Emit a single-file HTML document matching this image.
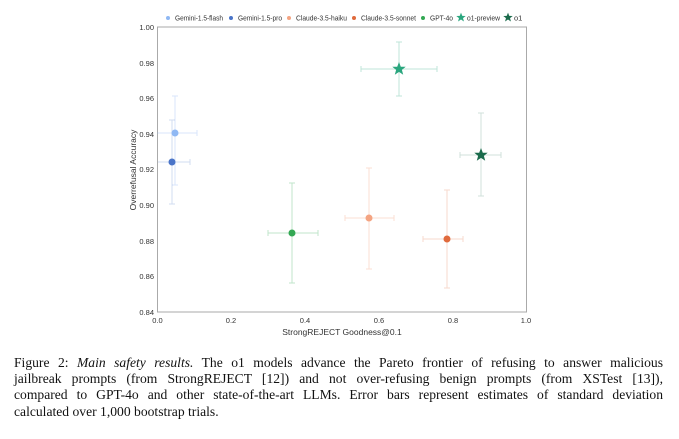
<!DOCTYPE html>
<html><head><meta charset="utf-8"><style>
body{margin:0;background:#fff;width:679px;height:439px;overflow:hidden;position:relative}
.cap{position:absolute;left:14px;top:355px;width:649px;font-family:"Liberation Serif",serif;font-size:13.6px;line-height:16.2px;color:#111}
.cap div{text-align:justify;text-align-last:justify;white-space:nowrap}
.cap div.l{text-align-last:left}
</style></head><body>
<svg width="679" height="345" style="position:absolute;left:0;top:0" font-family="Liberation Sans, sans-serif">
<defs>
<polygon id="st" points="0,-7 1.8,-2.3 6.7,-2.2 2.9,0.9 4.2,5.7 0,2.9 -4.2,5.7 -2.9,0.9 -6.7,-2.2 -1.8,-2.3"/>
</defs>
<g font-size="7.5" fill="#333" lengthAdjust="spacingAndGlyphs">
<circle cx="168" cy="18" r="2" fill="#8fb8f4"/><text x="175" y="20.5" textLength="48" lengthAdjust="spacingAndGlyphs">Gemini-1.5-flash</text>
<circle cx="231" cy="18" r="2" fill="#4a74c8"/><text x="238" y="20.5" textLength="44" lengthAdjust="spacingAndGlyphs">Gemini-1.5-pro</text>
<circle cx="289" cy="18" r="2" fill="#f4a482"/><text x="296" y="20.5" textLength="51" lengthAdjust="spacingAndGlyphs">Claude-3.5-haiku</text>
<circle cx="354" cy="18" r="2" fill="#e06a3c"/><text x="361" y="20.5" textLength="55" lengthAdjust="spacingAndGlyphs">Claude-3.5-sonnet</text>
<circle cx="423" cy="18" r="2" fill="#33a853"/><text x="430" y="20.5" textLength="23" lengthAdjust="spacingAndGlyphs">GPT-4o</text>
<use href="#st" transform="translate(461,17.5) scale(0.7)" fill="#2aa67e"/><text x="467" y="20.5" textLength="33" lengthAdjust="spacingAndGlyphs">o1-preview</text>
<use href="#st" transform="translate(508,17.5) scale(0.7)" fill="#1b6b4c"/><text x="514" y="20.5">o1</text>
</g>
<rect x="157.5" y="27" width="369" height="285" fill="none" stroke="#aaa" stroke-width="1"/>
<g font-size="7.5" fill="#333" text-anchor="end">
<text x="154" y="30">1.00</text><text x="154" y="66">0.98</text><text x="154" y="101">0.96</text><text x="154" y="137">0.94</text><text x="154" y="172">0.92</text><text x="154" y="208">0.90</text><text x="154" y="244">0.88</text><text x="154" y="279">0.86</text><text x="154" y="315">0.84</text>
</g>
<g font-size="7.5" fill="#333" text-anchor="middle">
<text x="157.5" y="323">0.0</text><text x="231" y="323">0.2</text><text x="305" y="323">0.4</text><text x="379" y="323">0.6</text><text x="453" y="323">0.8</text><text x="526" y="323">1.0</text>
<text x="342" y="335" font-size="8.5">StrongREJECT Goodness@0.1</text>
<text transform="translate(136,170) rotate(-90)" font-size="8.5">Overrefusal Accuracy</text>
</g>
<g stroke-width="1" fill="none">
<g stroke="#8fb8f4" opacity="0.35"><path d="M175,96V185M157,133H197M172,96H178M172,185H178M197,130V136"/></g>
<g stroke="#4a74c8" opacity="0.25"><path d="M172,120V204M158,162H190M169,120H175M169,204H175M190,159V165"/></g>
<g stroke="#33a853" opacity="0.3"><path d="M292,183V283M268,233H318M289,183H295M289,283H295M268,230V236M318,230V236"/></g>
<g stroke="#f4a482" opacity="0.35"><path d="M369,168V269M345,218H394M366,168H372M366,269H372M345,215V221M394,215V221"/></g>
<g stroke="#e06a3c" opacity="0.25"><path d="M447,190V288M423,239H463M444,190H450M444,288H450M423,236V242M463,236V242"/></g>
<g stroke="#2aa67e" opacity="0.3"><path d="M399,42V96M361,69H437M396,42H402M396,96H402M361,66V72M437,66V72"/></g>
<g stroke="#1b6b4c" opacity="0.2"><path d="M481,113V196M460,155H501M478,113H484M478,196H484M460,152V158M501,152V158"/></g>
</g>
<circle cx="175" cy="133" r="3.5" fill="#8fb8f4"/>
<circle cx="172" cy="162" r="3.5" fill="#4a74c8"/>
<circle cx="292" cy="233" r="3.5" fill="#33a853"/>
<circle cx="369" cy="218" r="3.5" fill="#f4a482"/>
<circle cx="447" cy="239" r="3.5" fill="#e06a3c"/>
<use href="#st" transform="translate(399,69)" fill="#2aa67e"/>
<use href="#st" transform="translate(481,155)" fill="#1b6b4c"/>
</svg>
<div class="cap">
<div>Figure 2: <i>Main safety results.</i> The o1 models advance the Pareto frontier of refusing to answer malicious</div>
<div>jailbreak prompts (from StrongREJECT [12]) and not over-refusing benign prompts (from XSTest [13]),</div>
<div>compared to GPT-4o and other state-of-the-art LLMs. Error bars represent estimates of standard deviation</div>
<div class="l">calculated over 1,000 bootstrap trials.</div>
</div>
</body></html>
